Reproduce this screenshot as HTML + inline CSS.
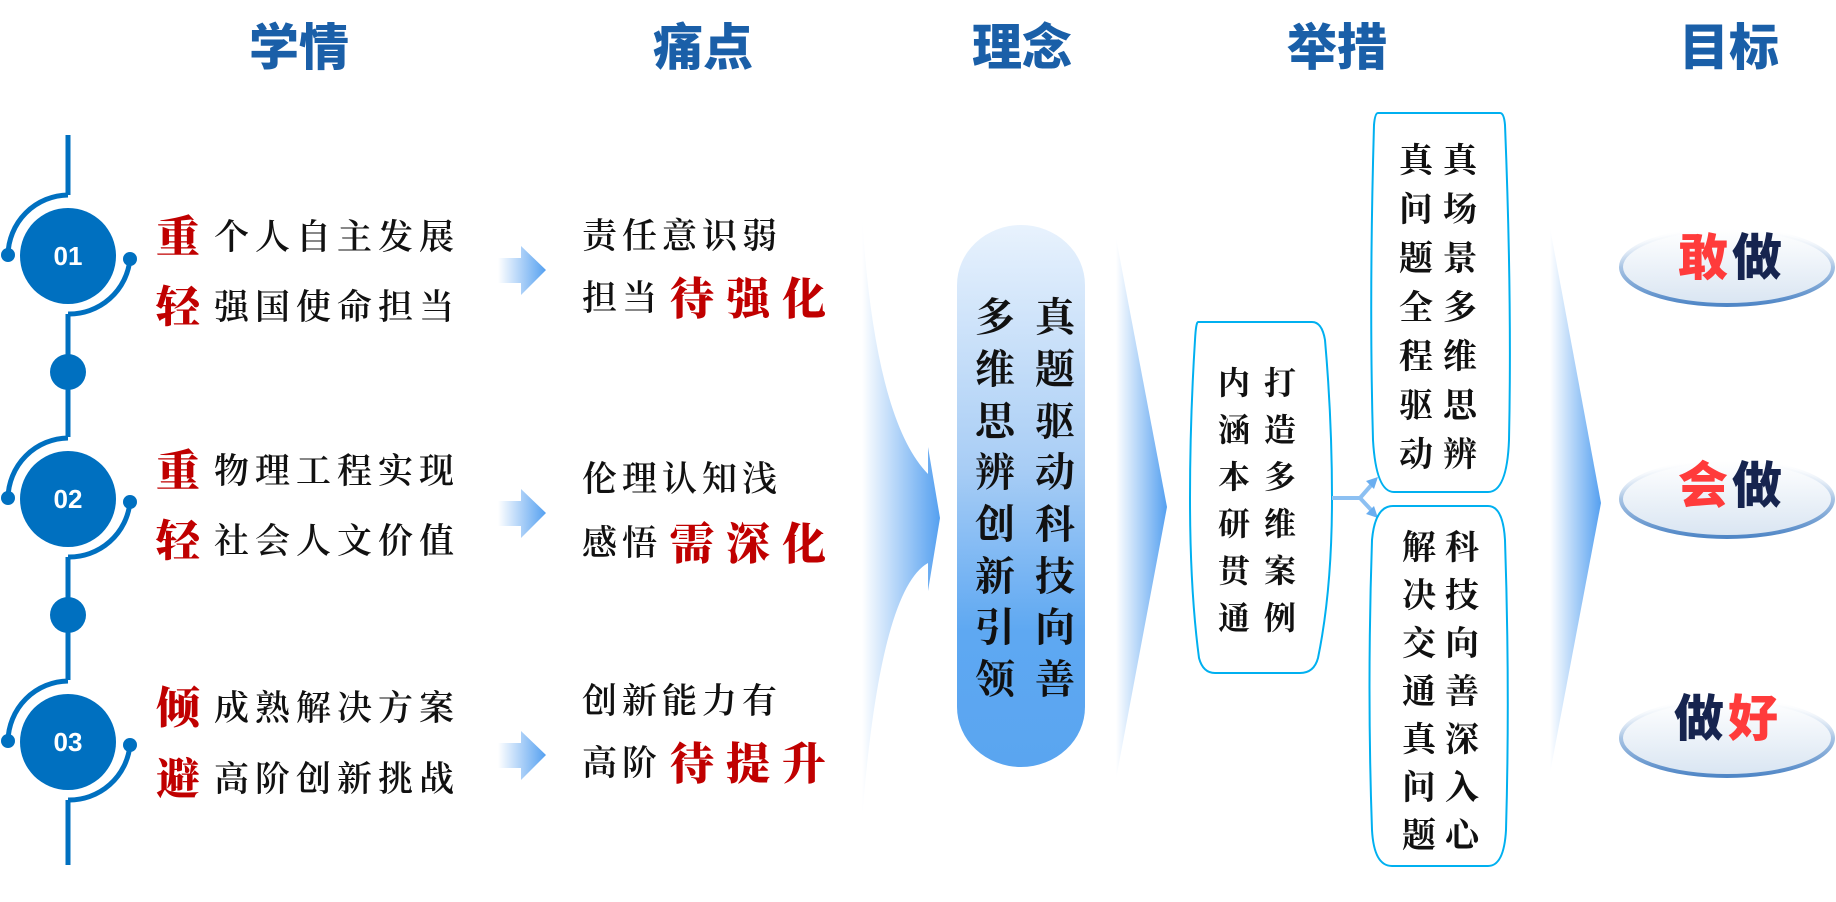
<!DOCTYPE html>
<html><head><meta charset="utf-8">
<style>
html,body{margin:0;padding:0;background:#fff;}
svg{display:block;}
.h{font-family:"Liberation Sans","Noto Sans CJK SC",sans-serif;font-weight:900;font-size:50px;fill:#1a5fa8;text-anchor:middle;}
.k{font-family:"Liberation Serif","Noto Serif CJK SC",serif;font-size:35px;fill:#111;font-weight:600;}
.r{font-family:"Liberation Serif","Noto Serif CJK SC",serif;font-size:44px;fill:#c00000;font-weight:900;}
.v{font-family:"Liberation Serif","Noto Serif CJK SC",serif;fill:#111;font-weight:700;text-anchor:middle;}
.g{font-family:"Liberation Sans","Noto Sans CJK SC",sans-serif;font-weight:900;font-size:50px;text-anchor:middle;}
</style></head><body>
<svg width="1836" height="902" viewBox="0 0 1836 902" xmlns="http://www.w3.org/2000/svg">
<defs>
<linearGradient id="fa" x1="0" y1="0" x2="1" y2="0">
<stop offset="0" stop-color="#ffffff"/><stop offset="1" stop-color="#55a0f0"/></linearGradient>
<linearGradient id="pill" x1="0" y1="0" x2="0" y2="1">
<stop offset="0" stop-color="#e8f2fd"/><stop offset="0.45" stop-color="#a8cdf5"/><stop offset="0.75" stop-color="#5ea8f2"/><stop offset="1" stop-color="#5aa5f0"/></linearGradient>
<linearGradient id="el" x1="0" y1="0" x2="0" y2="1">
<stop offset="0" stop-color="#ffffff"/><stop offset="1" stop-color="#d9e5f2"/></linearGradient>
<linearGradient id="ew" x1="0" y1="0" x2="0" y2="1">
<stop offset="0" stop-color="#ffffff" stop-opacity="0"/><stop offset="0.5" stop-color="#a8c4e4"/><stop offset="1" stop-color="#4f86c6"/></linearGradient>
</defs>

<text class="h" x="299" y="65">学情</text>
<text class="h" x="703" y="65">痛点</text>
<text class="h" x="1022" y="65">理念</text>
<text class="h" x="1337" y="65">举措</text>
<text class="h" x="1729" y="65">目标</text>

<g stroke="#0070c0" stroke-width="5" fill="none">
<line x1="68" y1="135" x2="68" y2="195"/>
<line x1="68" y1="314" x2="68" y2="437"/>
<line x1="68" y1="557" x2="68" y2="680"/>
<line x1="68" y1="800" x2="68" y2="865"/>
<path d="M68 195 A61 61 0 0 0 8 255"/>
<path d="M130 259 A61 61 0 0 1 68 314"/>
<path d="M68 438 A61 61 0 0 0 8 498"/>
<path d="M130 502 A61 61 0 0 1 68 557"/>
<path d="M68 681 A61 61 0 0 0 8 741"/>
<path d="M130 745 A61 61 0 0 1 68 800"/>
</g>
<g fill="#0070c0">
<circle cx="68" cy="256" r="48"/><circle cx="8" cy="255" r="7"/><circle cx="130" cy="259" r="7"/>
<circle cx="68" cy="372" r="18"/>
<circle cx="68" cy="499" r="48"/><circle cx="8" cy="498" r="7"/><circle cx="130" cy="502" r="7"/>
<circle cx="68" cy="615" r="18"/>
<circle cx="68" cy="742" r="48"/><circle cx="8" cy="741" r="7"/><circle cx="130" cy="745" r="7"/>
</g>
<g font-family="Liberation Sans,sans-serif" font-weight="700" font-size="26" fill="#fff" text-anchor="middle">
<text x="68" y="265">01</text><text x="68" y="508">02</text><text x="68" y="751">03</text>
</g>

<text class="r" x="156" y="252">重</text><text class="k" x="214" y="249" letter-spacing="6">个人自主发展</text>
<text class="r" x="156" y="322">轻</text><text class="k" x="214" y="319" letter-spacing="6">强国使命担当</text>
<text class="r" x="156" y="486">重</text><text class="k" x="214" y="483" letter-spacing="6">物理工程实现</text>
<text class="r" x="156" y="556">轻</text><text class="k" x="214" y="553" letter-spacing="6">社会人文价值</text>
<text class="r" x="156" y="723">倾</text><text class="k" x="214" y="720" letter-spacing="6">成熟解决方案</text>
<text class="r" x="156" y="794">避</text><text class="k" x="214" y="791" letter-spacing="6">高阶创新挑战</text>

<g fill="url(#fa)">
<path d="M498 258 H521 V246 L546 270 L521 295 V283 H498 Z"/>
<path d="M498 501 H521 V489 L546 513 L521 538 V526 H498 Z"/>
<path d="M498 743 H521 V731 L546 755 L521 780 V768 H498 Z"/>
</g>

<text class="k" x="582" y="248" letter-spacing="5">责任意识弱</text>
<text class="k" x="582" y="310" letter-spacing="5">担当</text><text class="r" x="670" y="314" letter-spacing="12">待强化</text>
<text class="k" x="582" y="491" letter-spacing="5">伦理认知浅</text>
<text class="k" x="582" y="555" letter-spacing="5">感悟</text><text class="r" x="670" y="559" letter-spacing="12">需深化</text>
<text class="k" x="582" y="713" letter-spacing="5">创新能力有</text>
<text class="k" x="582" y="775" letter-spacing="5">高阶</text><text class="r" x="670" y="779" letter-spacing="12">待提升</text>

<path fill="url(#fa)" d="M862 217 Q875 420 928 474 V447 L940 518 L928 591 V563 Q880 590 862 819 Z"/>
<path fill="url(#pill)" d="M957 285 A64 60 0 0 1 1085 285 V707 A64 60 0 0 1 957 707 Z"/>
<g class="v" font-size="40">
<text x="995" y="331">多</text><text x="995" y="383">维</text><text x="995" y="435">思</text><text x="995" y="486">辨</text><text x="995" y="538">创</text><text x="995" y="590">新</text><text x="995" y="641">引</text><text x="995" y="693">领</text>
<text x="1055" y="331">真</text><text x="1055" y="383">题</text><text x="1055" y="435">驱</text><text x="1055" y="486">动</text><text x="1055" y="538">科</text><text x="1055" y="590">技</text><text x="1055" y="641">向</text><text x="1055" y="693">善</text>
</g>

<path fill="url(#fa)" d="M1116 238 L1167 507 L1116 779 Z"/>

<path fill="#fff" stroke="#00b0f0" stroke-width="2" d="M1198 322 H1312 Q1322 322 1325 340 Q1332 420 1332 498 Q1332 590 1318 658 Q1314 673 1300 673 H1215 Q1203 673 1199 658 Q1190 590 1190 498 Q1190 420 1195 340 Q1196 322 1198 322 Z"/>
<g class="v" font-size="32">
<text x="1234" y="394">内</text><text x="1234" y="441">涵</text><text x="1234" y="488">本</text><text x="1234" y="535">研</text><text x="1234" y="582">贯</text><text x="1234" y="629">通</text>
<text x="1280" y="394">打</text><text x="1280" y="441">造</text><text x="1280" y="488">多</text><text x="1280" y="535">维</text><text x="1280" y="582">案</text><text x="1280" y="629">例</text>
</g>

<g stroke="#8cc0f2" stroke-width="4" fill="none">
<line x1="1332" y1="498" x2="1360" y2="498"/>
<line x1="1360" y1="498" x2="1374" y2="482"/>
<line x1="1360" y1="498" x2="1374" y2="513"/>
</g>
<path fill="#6aaef0" d="M1378 477 L1366 481 L1374 489 Z M1378 518 L1366 514 L1374 506 Z"/>

<path fill="#fff" stroke="#00b0f0" stroke-width="2" d="M1378 113 H1500 Q1504 113 1505 125 Q1512 300 1509 440 Q1507 492 1488 492 H1394 Q1376 492 1373 440 Q1369 300 1374 125 Q1375 113 1378 113 Z"/>
<path fill="#fff" stroke="#00b0f0" stroke-width="2" d="M1393 506 H1488 Q1503 506 1505 540 Q1510 690 1506 830 Q1504 866 1488 866 H1392 Q1374 866 1372 830 Q1367 690 1372 540 Q1375 506 1393 506 Z"/>
<g class="v" font-size="34">
<text x="1416" y="172">真</text><text x="1416" y="221">问</text><text x="1416" y="270">题</text><text x="1416" y="319">全</text><text x="1416" y="368">程</text><text x="1416" y="417">驱</text><text x="1416" y="466">动</text>
<text x="1460" y="172">真</text><text x="1460" y="221">场</text><text x="1460" y="270">景</text><text x="1460" y="319">多</text><text x="1460" y="368">维</text><text x="1460" y="417">思</text><text x="1460" y="466">辨</text>
<text x="1419" y="559">解</text><text x="1419" y="607">决</text><text x="1419" y="655">交</text><text x="1419" y="703">通</text><text x="1419" y="751">真</text><text x="1419" y="799">问</text><text x="1419" y="847">题</text>
<text x="1462" y="559">科</text><text x="1462" y="607">技</text><text x="1462" y="655">向</text><text x="1462" y="703">善</text><text x="1462" y="751">深</text><text x="1462" y="799">入</text><text x="1462" y="847">心</text>
</g>

<path fill="url(#fa)" d="M1550 228 L1601 503 L1550 773 Z"/>

<g>
<ellipse cx="1727" cy="267" rx="106" ry="38" fill="url(#el)"/>
<ellipse cx="1727" cy="267" rx="106" ry="38" fill="none" stroke="url(#ew)" stroke-width="4"/>
<ellipse cx="1727" cy="499" rx="106" ry="38" fill="url(#el)"/>
<ellipse cx="1727" cy="499" rx="106" ry="38" fill="none" stroke="url(#ew)" stroke-width="4"/>
<ellipse cx="1727" cy="738" rx="106" ry="38" fill="url(#el)"/>
<ellipse cx="1727" cy="738" rx="106" ry="38" fill="none" stroke="url(#ew)" stroke-width="4"/>
</g>
<text class="g" x="1703" y="275" fill="#ff3b3b">敢</text><text class="g" x="1757" y="275" fill="#16244f">做</text>
<text class="g" x="1703" y="503" fill="#ff3b3b">会</text><text class="g" x="1757" y="503" fill="#16244f">做</text>
<text class="g" x="1699" y="736" fill="#16244f">做</text><text class="g" x="1753" y="736" fill="#ff3b3b">好</text>
</svg>
</body></html>
